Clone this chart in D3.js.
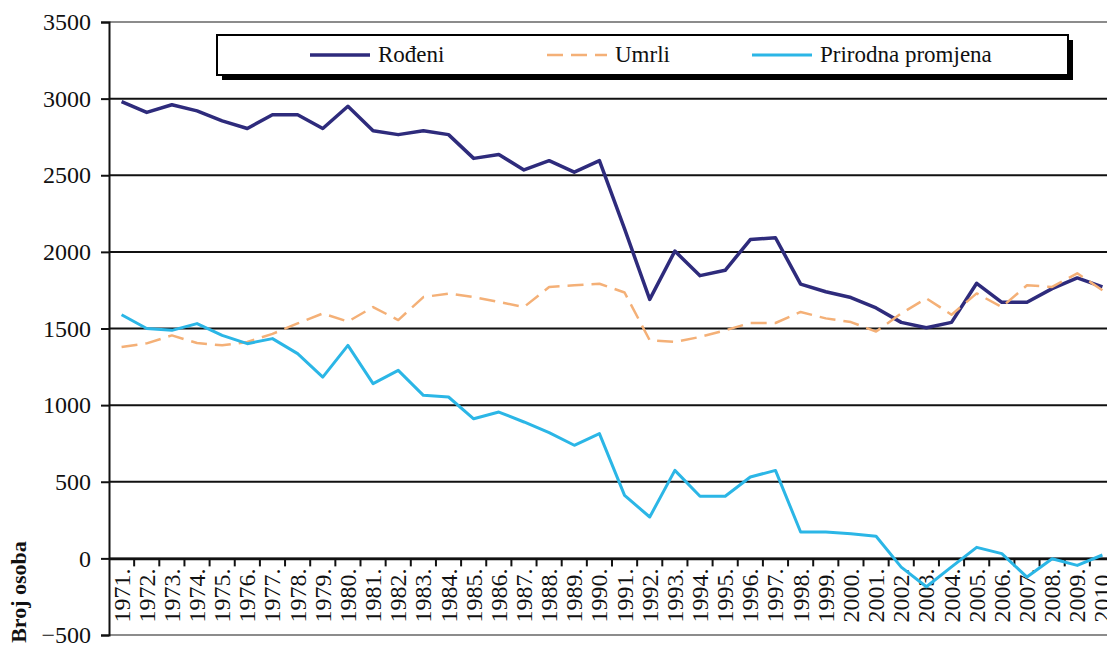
<!DOCTYPE html>
<html>
<head>
<meta charset="utf-8">
<script src="https://cdn.jsdelivr.net/npm/d3@7"></script>
<style>
  body { margin: 0; background: #fff; }
  svg { display: block; }
  svg text { font-family: "Liberation Serif", "Times New Roman", serif; }
</style>
</head>
<body>
<script>
var years = ["1971.","1972.","1973.","1974.","1975.","1976.","1977.","1978.","1979.","1980.",
             "1981.","1982.","1983.","1984.","1985.","1986.","1987.","1988.","1989.","1990.",
             "1991.","1992.","1993.","1994.","1995.","1996.","1997.","1998.","1999.","2000.",
             "2001.","2002.","2003.","2004.","2005.","2006.","2007.","2008.","2009.","2010."];

var rodeni = [2980, 2910, 2960, 2920, 2855, 2805, 2895, 2895, 2805, 2950,
              2790, 2765, 2790, 2765, 2610, 2635, 2535, 2595, 2520, 2595,
              2150, 1690, 2005, 1845, 1880, 2080, 2092, 1790, 1740, 1702,
              1634, 1540, 1505, 1540, 1795, 1671, 1671, 1760, 1830, 1772];

var umrli = [1380, 1403, 1455, 1405, 1390, 1412, 1465, 1533, 1598, 1545,
             1640, 1555, 1705, 1728, 1705, 1673, 1640, 1771, 1782, 1792,
             1735, 1423, 1412, 1445, 1488, 1536, 1536, 1608, 1566, 1542,
             1480, 1598, 1697, 1590, 1729, 1640, 1782, 1771, 1860, 1750];

var prirodna = [1590, 1500, 1488, 1532, 1455, 1401, 1434, 1336, 1183, 1390,
                1140, 1227, 1064, 1053, 911, 955, 890, 820, 738, 814,
                411, 270, 574, 405, 405, 531, 574, 172, 172, 161,
                144, -57, -185, -55, 72, 31, -122, -2, -46, 22];

var yTicks = [-500, 0, 500, 1000, 1500, 2000, 2500, 3000, 3500];

var series = [
  {name: "Rođeni", values: rodeni, color: "#2e2b7c", width: 3.5, dash: null},
  {name: "Umrli", values: umrli, color: "#f4b077", width: 2.5, dash: "16,8"},
  {name: "Prirodna promjena", values: prirodna, color: "#2bb6e6", width: 3, dash: null}
];

function drawChart(){
  var W = 1107, H = 647;
  var pLeft = 109, pRight = 1115, pTop = 22, pBottom = 635;

  var svg = d3.select("body").append("svg")
    .attr("width", W)
    .attr("height", H);

  var x = d3.scaleBand().domain(years).range([pLeft, pRight]).padding(0);
  var y = d3.scaleLinear().domain([-500, 3500]).range([pBottom, pTop]);

  // grid lines
  svg.append("g").selectAll("line")
    .data(yTicks)
    .enter().append("line")
    .attr("x1", pLeft).attr("x2", W + 20)
    .attr("y1", function(d){ return y(d); })
    .attr("y2", function(d){ return y(d); })
    .attr("stroke", function(d){ return (d === 3500 || d === -500) ? "#666" : "#111"; })
    .attr("stroke-width", function(d){ return (d === 3500 || d === -500) ? 1.5 : 2; });

  // y axis
  var yAxis = d3.axisLeft(y).tickValues(yTicks).tickSize(8).tickPadding(10).tickFormat(d3.format("d"));
  var gy = svg.append("g").attr("transform", "translate(" + pLeft + ",0)").call(yAxis)
    .attr("font-family", null);
  gy.select(".domain").attr("stroke", "#111").attr("stroke-width", 2);
  gy.selectAll(".tick line").attr("stroke", "#111").attr("stroke-width", 2);
  gy.selectAll(".tick text").attr("font-size", 24).attr("fill", "#111");

  // x axis at zero
  var xAxis = d3.axisBottom(x).tickSize(0).tickPadding(0);
  var gx = svg.append("g").attr("transform", "translate(0," + y(0) + ")").call(xAxis)
    .attr("font-family", null);
  gx.select(".domain").attr("stroke", "#111").attr("stroke-width", 2.5);
  gx.selectAll(".tick text")
    .attr("font-size", 24)
    .attr("fill", "#111")
    .attr("text-anchor", "end")
    .attr("dy", null)
    .attr("y", 0)
    .attr("transform", "translate(8,10) rotate(-90)");

  // boundary ticks
  svg.append("g").selectAll("line")
    .data(years.slice(1))
    .enter().append("line")
    .attr("x1", function(d){ return x(d); })
    .attr("x2", function(d){ return x(d); })
    .attr("y1", y(0)).attr("y2", y(0) + 8)
    .attr("stroke", "#111").attr("stroke-width", 2);

  // lines
  var line = d3.line()
    .x(function(d, i){ return x(years[i]) + x.bandwidth() / 2; })
    .y(function(d){ return y(d); });

  series.forEach(function(s){
    svg.append("path")
      .datum(s.values)
      .attr("d", line)
      .attr("fill", "none")
      .attr("stroke", s.color)
      .attr("stroke-width", s.width)
      .attr("stroke-dasharray", s.dash)
      .attr("stroke-linejoin", "round");
  });

  // y title
  svg.append("text")
    .attr("transform", "translate(26,592) rotate(-90)")
    .attr("text-anchor", "middle")
    .attr("font-size", 22)
    .attr("font-weight", "bold")
    .attr("fill", "#111")
    .text("Broj osoba");

  // legend
  var lg = svg.append("g");
  lg.append("rect").attr("x", 222).attr("y", 40).attr("width", 851).attr("height", 40).attr("fill", "#000");
  lg.append("rect").attr("x", 217).attr("y", 35).attr("width", 851).attr("height", 40)
    .attr("fill", "#fff").attr("stroke", "#000").attr("stroke-width", 2);

  var legendX = [310, 547, 752];
  series.forEach(function(s, i){
    lg.append("line")
      .attr("x1", legendX[i]).attr("x2", legendX[i] + 60)
      .attr("y1", 55).attr("y2", 55)
      .attr("stroke", s.color)
      .attr("stroke-width", s.width)
      .attr("stroke-dasharray", s.dash);
    lg.append("text")
      .attr("x", legendX[i] + 68).attr("y", 62)
      .attr("font-size", 23)
      .attr("fill", "#111")
      .text(s.name);
  });
}

drawChart();
</script>
</body>
</html>
